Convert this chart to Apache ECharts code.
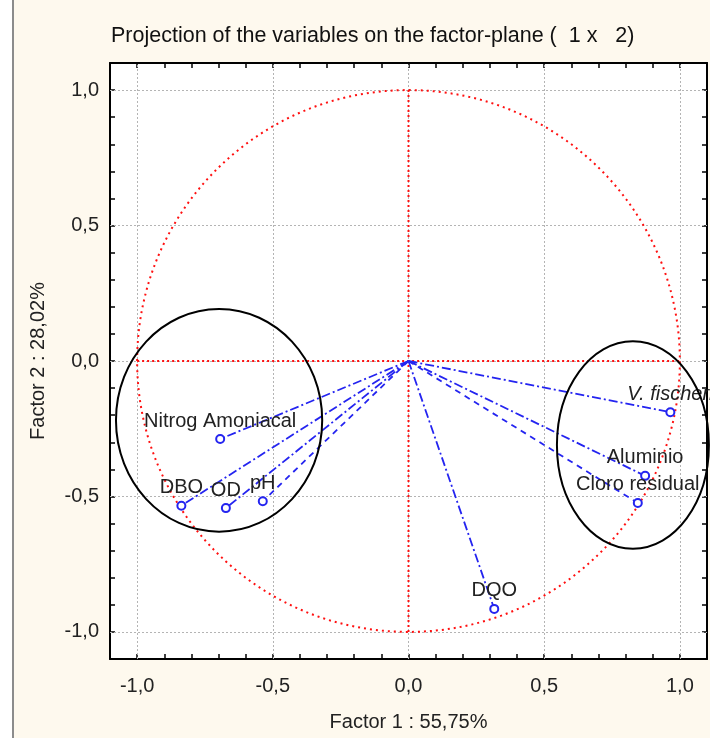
<!DOCTYPE html>
<html>
<head>
<meta charset="utf-8">
<script src="https://cdn.jsdelivr.net/npm/echarts@6/dist/echarts.min.js"></script>
<style>
html, body { margin: 0; padding: 0; background: #fef9ee; }
#main { width: 710px; height: 738px; }
</style>
</head>
<body>
<div id="main"></div>
<script>
// variable loadings on factor 1 and factor 2
var names = ['V. fischeri', 'Aluminio', 'Cloro residual', 'DQO', 'Nitrog Amoniacal', 'DBO', 'OD', 'pH'];
var factor1 = [0.965, 0.872, 0.845, 0.316, -0.694, -0.837, -0.673, -0.537];
var factor2 = [-0.189, -0.424, -0.524, -0.915, -0.288, -0.534, -0.543, -0.518];
var gridTicks = [-1, -0.5, 0, 0.5, 1];
// hand drawn groups (ellipses)
var groupCx = [-0.698, 0.827];
var groupCy = [-0.219, -0.310];
var groupRx = [0.380, 0.280];
var groupRy = [0.411, 0.383];

var FONT = "'Liberation Sans', Arial, sans-serif";
var BLUE = '#2424f0';
var RED = '#ff1010';
var dashDot = [9, 3, 2, 3];
var dashed = [6, 5];
var vectorDash = [dashDot, dashDot, dashed, dashDot, dashDot, dashDot, dashDot, dashed];

function fmtTick(v) {
    if (Math.abs(v * 2 - Math.round(v * 2)) > 1e-6) return '';
    return v.toFixed(1).replace('.', ',');
}

var axisCommon = {
    type: 'value', min: -1.1, max: 1.1, interval: 0.1,
    axisLine: { show: true, onZero: false, lineStyle: { color: '#000', width: 2 } },
    axisTick: { show: true, inside: true, length: 5, lineStyle: { color: '#000', width: 1.5 } },
    splitLine: { show: false }
};

var series = [];

// gray dotted grid
series.push({
    type: 'line', data: [], z: 1, silent: true,
    markLine: {
        silent: true, symbol: 'none', z: 1, label: { show: false },
        lineStyle: { color: '#b4b4b4', type: [2, 2], width: 1 },
        data: gridTicks.map(function (t) { return { xAxis: t }; })
            .concat(gridTicks.map(function (t) { return { yAxis: t }; }))
    }
});

// red dotted cross
series.push({
    type: 'line', z: 3, silent: true, symbol: 'none',
    data: [[-1, 0], [1, 0]],
    lineStyle: { color: RED, type: [2, 3], width: 2 }
});
series.push({
    type: 'line', z: 3, silent: true, symbol: 'none',
    data: [[0, -1], [0, 1]],
    lineStyle: { color: RED, type: [2, 3], width: 2 }
});

// unit circle
series.push({
    type: 'custom', z: 3, silent: true,
    data: [[0, 0, 1, 1]],
    renderItem: function (params, api) {
        var c = api.coord([api.value(0), api.value(1)]);
        var s = api.size([api.value(2), api.value(3)]);
        return {
            type: 'ellipse',
            shape: { cx: c[0], cy: c[1], rx: s[0], ry: s[1] },
            style: { fill: 'none', stroke: RED, lineWidth: 2, lineDash: [2, 4] }
        };
    }
});

// group ellipses
series.push({
    type: 'custom', z: 5, silent: true, clip: false,
    data: groupCx.map(function (x, i) { return [x, groupCy[i], groupRx[i], groupRy[i]]; }),
    renderItem: function (params, api) {
        var c = api.coord([api.value(0), api.value(1)]);
        var s = api.size([api.value(2), api.value(3)]);
        return {
            type: 'ellipse',
            shape: { cx: c[0], cy: c[1], rx: s[0], ry: s[1] },
            style: { fill: 'none', stroke: '#000', lineWidth: 2 }
        };
    }
});

// vectors
names.forEach(function (n, i) {
    series.push({
        name: n, type: 'line', z: 4,
        lineStyle: { color: BLUE, width: 1.8, type: vectorDash[i] },
        itemStyle: { color: BLUE, borderColor: BLUE, borderWidth: 1.8 },
        symbol: 'emptyCircle', symbolSize: 8,
        data: [
            { value: [0, 0], symbol: 'none' },
            {
                value: [factor1[i], factor2[i]],
                label: {
                    show: true, position: 'top', distance: 3, formatter: n,
                    fontFamily: FONT, fontSize: 20, color: '#222',
                    fontStyle: i === 0 ? 'italic' : 'normal'
                }
            }
        ]
    });
});

var chart = echarts.init(document.getElementById('main'));
chart.setOption({
    backgroundColor: '#fef9ee',
    animation: false,
    title: {
        text: 'Projection of the variables on the factor-plane (  1 x   2)',
        left: 106, top: 20,
        textStyle: { fontFamily: FONT, fontSize: 21.5, fontWeight: 'normal', color: '#111' }
    },
    graphic: [
        { type: 'rect', shape: { x: 0, y: 0, width: 12, height: 738 }, style: { fill: '#fff' } },
        { type: 'rect', shape: { x: 12, y: 0, width: 2, height: 738 }, style: { fill: '#8c8c8c' } }
    ],
    grid: { left: 110, right: 3, top: 63, bottom: 79, show: true, backgroundColor: '#fff', borderWidth: 0 },
    xAxis: [
        Object.assign({}, axisCommon, {
            position: 'bottom',
            name: 'Factor 1 : 55,75%', nameLocation: 'middle', nameGap: 53,
            nameTextStyle: { fontFamily: FONT, fontSize: 20, color: '#222' },
            axisLabel: { formatter: fmtTick, margin: 17, fontFamily: FONT, fontSize: 20, color: '#222' }
        }),
        Object.assign({}, axisCommon, { position: 'top', axisLabel: { show: false } })
    ],
    yAxis: [
        Object.assign({}, axisCommon, {
            position: 'left',
            name: 'Factor 2 : 28,02%', nameLocation: 'middle', nameGap: 62,
            nameTextStyle: { fontFamily: FONT, fontSize: 20, color: '#222' },
            axisLabel: { formatter: fmtTick, margin: 11, fontFamily: FONT, fontSize: 20, color: '#222' }
        }),
        Object.assign({}, axisCommon, { position: 'right', axisLabel: { show: false } })
    ],
    series: series
});
</script>
</body>
</html>
